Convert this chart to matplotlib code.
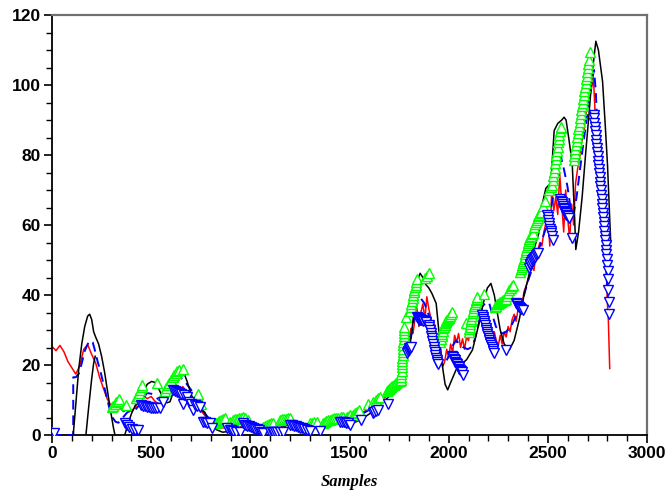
import matplotlib; matplotlib.use("Agg")
import matplotlib.pyplot as plt
from matplotlib.ticker import MultipleLocator

# ---- price (red, noisy) ----
red_x = [0, 20, 40, 60, 80, 100, 120, 140, 160, 180, 200, 220, 240, 260, 280, 300, 320, 340, 360, 380,
         400, 420, 440, 460, 480, 500, 520, 540, 560, 580, 600, 620, 640, 660, 680, 700, 720, 740, 760, 780,
         800, 820, 840, 860, 880, 900, 920, 940, 960, 980, 1000, 1020, 1040, 1060, 1080, 1100, 1120, 1140, 1160, 1180,
         1200, 1220, 1240, 1260, 1280, 1300, 1320, 1340, 1360, 1380, 1400, 1420, 1440, 1460, 1480, 1500, 1520, 1540, 1560, 1580,
         1600, 1620, 1640, 1660, 1680, 1700, 1720, 1740, 1760, 1770, 1780, 1790, 1800, 1810, 1820, 1830, 1840, 1850, 1860, 1870,
         1880, 1890, 1900, 1910, 1920, 1930, 1940, 1950, 1960, 1970, 1980, 1990, 2000, 2010, 2020, 2030, 2040, 2050, 2060, 2070,
         2080, 2090, 2100, 2110, 2120, 2130, 2140, 2150, 2160, 2170, 2180, 2190, 2200, 2210, 2220, 2230, 2240, 2250, 2260, 2270,
         2280, 2290, 2300, 2310, 2320, 2330, 2340, 2350, 2360, 2370, 2380, 2390, 2400, 2410, 2420, 2430, 2440, 2450, 2460, 2470,
         2480, 2490, 2500, 2510, 2520, 2530, 2540, 2550, 2560, 2570, 2580, 2590, 2600, 2610, 2620, 2630, 2640, 2650, 2660, 2670,
         2680, 2690, 2700, 2710, 2720, 2730, 2740, 2750, 2760, 2770, 2780, 2790, 2800, 2805, 2812]
red_y = [25.3, 24.1, 25.6, 23.8, 21.0, 19.2, 17.4, 19.8, 24.5, 25.8, 23.0, 20.6, 16.5, 13.2, 10.1, 8.2, 7.0, 8.1, 6.7, 7.4,
         6.8, 7.9, 9.8, 11.2, 10.4, 11.0, 9.6, 8.8, 9.3, 11.5, 13.2, 14.6, 13.1, 13.8, 12.2, 11.4, 9.6, 8.0, 6.3, 4.9,
         3.8, 3.0, 2.4, 2.0, 2.2, 1.8, 2.3, 2.0, 2.6, 2.3, 2.1, 1.7, 1.4, 1.2, 1.0, 1.3, 1.5, 1.9, 2.4, 2.8,
         2.6, 3.0, 2.7, 2.3, 2.0, 1.8, 2.1, 2.4, 2.8, 3.1, 3.4, 3.6, 3.9, 4.3, 4.6, 4.9, 5.3, 5.8, 6.3, 6.9,
         7.6, 8.3, 9.1, 10.0, 10.8, 11.9, 12.8, 14.2, 17.5, 20.0, 23.4, 25.0, 27.0, 30.5, 29.0, 33.0, 36.2, 31.0, 35.0, 37.5,
         33.0, 39.5, 36.0, 33.5, 30.5, 31.5, 27.0, 24.5, 22.0, 19.5, 21.0, 24.5, 22.0, 26.0, 23.5, 28.5, 26.5, 29.0, 25.0, 27.5,
         24.5, 28.0, 27.0, 30.0, 31.5, 33.5, 35.0, 37.0, 35.5, 33.0, 35.5, 31.0, 33.5, 29.0, 26.5, 29.5, 27.0, 25.5, 28.5, 26.0,
         29.5, 28.0, 31.0, 29.5, 33.0, 34.5, 32.5, 36.0, 38.5, 37.0, 41.0, 42.5, 44.0, 46.5, 48.0, 47.0, 51.5, 53.0, 55.0, 54.0,
         58.0, 60.5, 62.0, 54.0, 70.5, 64.0, 68.0, 63.0, 74.5, 66.0, 58.0, 70.0, 62.0, 56.0, 66.0, 60.0, 72.0, 76.0, 79.0, 83.5,
         86.0, 91.0, 94.5, 96.0, 99.0, 102.0, 90.0, 85.5, 82.0, 76.0, 68.0, 55.0, 38.0, 33.0, 19.0]

# ---- moving average (blue dashed) ----
ma_x = [0, 107, 107, 120, 135, 150, 165, 180, 195, 205, 215, 230, 245, 260, 275, 290, 305, 320, 335, 350,
        365, 380, 400, 420, 440, 460, 480, 500, 520, 540, 560, 580, 600, 620, 640, 660, 680, 700, 720, 740,
        760, 780, 800, 820, 850, 880, 920, 960, 1000, 1040, 1080, 1120, 1160, 1200, 1240, 1280, 1320, 1360, 1400, 1450,
        1500, 1550, 1600, 1650, 1700, 1740, 1770, 1790, 1810, 1825, 1844, 1860, 1878, 1903, 1928, 1953, 1978, 2000, 2020, 2037,
        2055, 2070, 2095, 2120, 2145, 2170, 2190, 2205, 2222, 2238, 2255, 2272, 2290, 2314, 2340, 2373, 2400, 2430, 2460, 2490,
        2520, 2545, 2566, 2582, 2599, 2616, 2630, 2645, 2666, 2683, 2700, 2718, 2733, 2742, 2750, 2760, 2767, 2780, 2790, 2800, 2808]
ma_y = [0, 0, 16.5, 16.5, 17.5, 20.5, 24.0, 26.0, 27.0, 26.5, 24.5, 21.0, 18.0, 14.5, 11.0, 7.5, 5.0, 3.8, 3.5, 4.5,
        5.5, 6.5, 7.0, 7.2, 8.5, 10.5, 12.0, 11.8, 11.0, 10.0, 9.5, 11.0, 13.5, 15.5, 16.5, 16.0, 14.5, 13.0, 11.0, 9.0,
        7.0, 5.5, 4.2, 3.3, 2.6, 2.3, 2.1, 2.3, 2.2, 1.7, 1.3, 1.4, 2.0, 2.5, 2.7, 2.3, 2.1, 2.5, 3.1, 3.8,
        4.6, 5.6, 7.2, 9.3, 11.5, 13.8, 17.5, 22.0, 28.0, 33.0, 39.5, 39.0, 37.6, 33.8, 26.2, 20.5, 20.0, 22.5, 25.5, 27.0,
        26.0, 25.2, 24.5, 25.2, 30.0, 36.7, 38.0, 37.6, 34.0, 31.0, 29.5, 29.0, 29.5, 31.0, 34.0, 38.6, 44.0, 49.0, 54.0, 59.0,
        66.0, 74.0, 79.5, 75.7, 71.0, 64.3, 63.0, 68.0, 77.6, 85.0, 92.0, 100.0, 104.3, 98.0, 87.0, 78.0, 72.9, 62.0, 52.0, 42.0, 35.0]

# ---- smoothed signal (black) ----
sm_x = [107, 120, 135, 150, 165, 180, 190, 200, 210, 220, 235, 250, 265, 280, 295, 310, 325, 345, 367, 385,
        400, 420, 443, 460, 480, 502, 520, 540, 560, 580, 595, 610, 625, 644, 660, 680, 700, 720, 745, 770,
        790, 812, 830, 860, 890, 920, 950, 980, 1010, 1040, 1070, 1100, 1130, 1160, 1190, 1215, 1245, 1280, 1315, 1350,
        1400, 1450, 1500, 1550, 1600, 1650, 1700, 1735, 1760, 1780, 1802, 1815, 1830, 1845, 1856, 1870, 1885, 1900, 1915, 1937,
        1950, 1969, 1982, 1995, 2010, 2037, 2060, 2090, 2120, 2145, 2170, 2195, 2213, 2230, 2245, 2260, 2280, 2306, 2330, 2356,
        2380, 2406, 2430, 2456, 2472, 2490, 2515, 2532, 2550, 2570, 2582, 2592, 2605, 2623, 2635, 2641, 2655, 2673, 2690, 2708,
        2725, 2742, 2755, 2776, 2790, 2801, 2810, 2817]
sm_y = [0.0, 9.0, 19.0, 26.0, 31.0, 34.0, 34.5, 33.0, 29.5, 28.0, 26.0, 22.5, 18.0, 12.5, 7.0, 2.0, -2.0, -3.0, 0.0, 3.5,
        6.0, 8.5, 9.5, 12.0, 14.5, 15.3, 15.0, 13.0, 10.5, 9.2, 9.5, 12.0, 16.0, 19.0, 18.5, 15.5, 12.0, 8.5, 7.5, 6.5,
        4.0, 2.3, 1.5, 0.8, 1.0, 1.5, 1.8, 1.6, 1.2, 1.0, 0.6, 0.8, 1.3, 2.0, 3.0, 3.7, 3.6, 2.9, 2.6, 2.8,
        3.0, 3.2, 3.0, 4.2, 6.0, 8.5, 11.0, 13.8, 16.5, 20.0, 24.3, 30.0, 38.0, 44.5, 46.2, 45.0, 43.0, 42.0, 40.5, 37.6,
        30.0, 19.5, 14.5, 12.9, 15.0, 18.6, 20.0, 21.5, 24.3, 30.0, 36.7, 42.0, 43.3, 40.0, 35.0, 30.0, 26.0, 24.3, 27.0, 33.0,
        40.0, 46.0, 53.0, 58.0, 66.0, 70.5, 72.0, 87.0, 89.0, 90.0, 90.8, 90.0, 85.0, 77.6, 62.0, 53.0, 58.0, 68.0, 80.0, 92.0,
        104.0, 112.5, 110.0, 101.0, 88.0, 77.0, 65.0, 55.0]
sm2_x = [171, 185, 200, 210, 218]
sm2_y = [0.0, 8.0, 16.0, 20.5, 22.5]

# ---- up signals (green) ----
up_x = [0, 300, 308, 316, 324, 332, 340, 372, 425, 432, 439, 446, 453, 456, 527,
        560, 568, 576, 584, 592, 600, 608, 616, 624, 632, 640, 661, 737, 750,
        828, 836, 844, 852, 860, 871, 896, 912, 922, 932, 942, 952, 962, 971, 987,
        1063, 1073, 1083, 1093, 1103, 1113, 1148, 1158, 1168, 1178, 1188, 1198,
        1299, 1309, 1319, 1334, 1364, 1374, 1384, 1394, 1404, 1414, 1424, 1434, 1444, 1455, 1465,
        1485, 1495, 1505, 1516, 1528, 1540, 1550, 1592,
        1620, 1632, 1644, 1652, 1690, 1695, 1700, 1705, 1710, 1716, 1722, 1728, 1735, 1741, 1748, 1754, 1760,
        1761, 1762, 1763, 1764, 1765, 1766, 1767, 1768, 1769, 1770, 1771, 1772, 1773, 1774, 1775, 1776, 1777, 1785,
        1806, 1809, 1812, 1815, 1818, 1821, 1824, 1827, 1830, 1833, 1836, 1838, 1880, 1890, 1903,
        1958, 1961, 1964, 1967, 1970, 1973, 1976, 1979, 1982, 1985, 1988, 1991, 1994, 1997, 2000, 2004, 2008, 2012, 2017, 2088,
        2100, 2103, 2106, 2109, 2112, 2115, 2118, 2121, 2124, 2127, 2130, 2133, 2136, 2139, 2142, 2145, 2180,
        2236, 2241, 2246, 2251, 2256, 2261, 2266, 2271, 2276, 2281, 2286, 2291, 2296, 2301, 2306, 2312, 2318, 2322,
        2362, 2365, 2368, 2371, 2374, 2377, 2380, 2383, 2386, 2389, 2392, 2395, 2398, 2401, 2404, 2407, 2410, 2414, 2418, 2423,
        2430, 2435, 2440, 2444, 2448, 2452, 2456, 2460, 2465, 2475, 2487, 2505, 2514,
        2522, 2525, 2528, 2531, 2534, 2537, 2540, 2543, 2546, 2549, 2552, 2555, 2558, 2561, 2564, 2566,
        2630, 2633, 2636, 2639, 2642, 2645, 2648, 2651, 2654, 2657, 2660, 2663, 2666, 2669, 2672, 2675,
        2678, 2681, 2684, 2687, 2690, 2693, 2696, 2699, 2702, 2705, 2708, 2713]
up_y = [1.0, 8.0, 8.4, 8.9, 9.4, 9.8, 10.2, 8.6, 10.5, 11.2, 12.0, 12.8, 13.6, 14.3, 14.8,
        11.8, 12.6, 13.4, 14.2, 15.0, 15.8, 16.6, 17.2, 17.8, 18.3, 18.6, 19.0, 11.7, 9.0,
        3.4, 3.8, 4.1, 4.4, 4.6, 4.8, 3.8, 4.3, 4.5, 4.7, 4.9, 5.0, 5.1, 4.8, 4.3,
        2.4, 2.7, 3.0, 3.2, 3.4, 3.3, 4.3, 4.5, 4.6, 4.7, 4.8, 4.8,
        3.3, 3.5, 3.6, 3.8, 3.4, 3.7, 3.9, 4.2, 4.4, 4.6, 4.8, 4.9, 5.0, 5.1, 5.1,
        5.1, 5.4, 5.7, 5.8, 6.2, 6.7, 7.1, 9.0,
        9.5, 10.0, 10.5, 11.0, 12.5, 12.9, 13.2, 13.5, 13.8, 14.1, 14.3, 14.6, 14.8, 15.1, 15.3, 15.5, 15.7,
        16.6, 17.5, 18.4, 19.3, 20.2, 21.1, 22.0, 22.9, 23.8, 24.7, 25.6, 26.5, 27.4, 28.3, 29.2, 30.1, 31.0, 33.8,
        35.5, 36.6, 37.5, 38.3, 39.2, 40.0, 40.8, 41.5, 42.3, 43.0, 43.6, 44.5, 45.0, 45.5, 46.2,
        26.5, 27.5, 28.3, 29.0, 29.8, 30.5, 31.0, 31.5, 32.0, 32.3, 32.6, 32.8, 33.0, 33.2, 33.4, 33.7, 34.1, 34.6, 35.2, 31.9,
        29.5, 30.3, 31.0, 31.8, 32.5, 33.2, 34.0, 34.8, 35.5, 36.2, 36.8, 37.4, 38.0, 38.5, 39.0, 39.5, 40.2,
        36.5, 37.0, 37.3, 37.5, 37.7, 37.9, 38.1, 38.3, 38.5, 38.6, 38.7, 39.0, 39.8, 40.6, 41.4, 42.0, 42.6, 43.0,
        46.5, 47.3, 47.9, 48.5, 49.1, 49.8, 50.4, 51.0, 51.7, 52.3, 53.0, 53.6, 54.2, 54.9, 55.5, 56.0, 56.5, 57.0, 57.3, 57.6,
        59.5, 60.3, 61.0, 61.5, 62.0, 62.5, 63.0, 63.4, 63.8, 65.5, 67.0, 70.0, 71.0,
        71.5, 72.8, 74.0, 75.2, 76.4, 77.6, 78.8, 80.0, 81.2, 82.4, 83.6, 84.7, 85.8, 86.8, 87.6, 88.0,
        78.5, 79.6, 80.7, 81.8, 82.9, 84.0, 85.1, 86.2, 87.3, 88.4, 89.5, 90.6, 91.7, 92.8, 93.9, 95.0,
        96.1, 97.2, 98.3, 99.4, 100.5, 101.6, 102.7, 103.8, 104.9, 106.0, 107.1, 109.5]

# ---- down signals (blue) ----
dn_x = [10, 367, 378, 390, 405, 420, 433,
        451, 460, 470, 480, 490, 500, 510, 520, 530, 543, 561,
        610, 620, 630, 640, 650, 658, 668, 680, 690, 700, 711, 720, 732, 745,
        761, 772, 784, 795, 808, 880, 895, 905, 915, 930, 946,
        963, 973, 983, 993, 1003, 1013, 1023, 1033, 1043, 1053, 1063,
        1097, 1107, 1113, 1123, 1135, 1148, 1163,
        1198, 1208, 1218, 1228, 1238, 1248, 1260, 1272, 1284, 1299, 1352,
        1450, 1460, 1470, 1480, 1490, 1500, 1559, 1617, 1625, 1633, 1642, 1693,
        1790, 1794, 1798, 1802, 1806, 1812,
        1840, 1844, 1848, 1852, 1857, 1862, 1867, 1872, 1879, 1886,
        1900, 1903, 1906, 1909, 1912, 1915, 1918, 1921, 1924, 1927, 1930, 1933, 1936, 1939, 1942, 1945,
        2018, 2022, 2026, 2030, 2034, 2038, 2042, 2046, 2050, 2054, 2058, 2062, 2066, 2070,
        2168, 2171, 2174, 2177, 2180, 2183, 2186, 2189, 2192, 2195, 2198, 2201, 2204, 2207, 2210, 2214, 2218, 2222, 2226, 2230, 2289,
        2339, 2345, 2350, 2356, 2362, 2367, 2373,
        2404, 2408, 2412, 2416, 2420, 2424, 2428, 2433, 2438, 2443, 2448,
        2496, 2499, 2502, 2505, 2508, 2511, 2514, 2517, 2520, 2524,
        2563, 2566, 2569, 2572, 2575, 2578, 2581, 2584, 2587, 2590, 2594, 2598, 2602, 2608, 2624,
        2731, 2733, 2735, 2737, 2739, 2741, 2743, 2745, 2747, 2749, 2751, 2753, 2755, 2757, 2759, 2761, 2763, 2765, 2767, 2769,
        2771, 2773, 2775, 2777, 2779, 2781, 2783, 2785, 2787, 2789, 2791, 2793, 2795, 2797, 2799, 2801, 2803, 2805, 2807, 2809]
dn_y = [0.5, 3.4, 2.8, 2.2, 1.8, 1.5, 1.4,
        8.5, 8.4, 8.2, 8.0, 7.9, 7.8, 7.8, 7.7, 7.7, 7.7, 9.5,
        12.9, 12.6, 12.3, 12.0, 11.6, 9.0, 11.3, 11.0, 9.5, 9.0, 7.1, 8.6, 8.3, 8.0,
        3.8, 3.6, 3.4, 3.3, 1.9, 2.0, 1.4, 1.3, 1.2, 1.0, 1.0,
        3.3, 3.0, 2.7, 2.5, 2.2, 2.0, 1.8, 1.6, 1.4, 1.0, 0.5,
        1.0, 0.9, 1.0, 0.8, 1.0, 1.0, 1.0,
        2.9, 2.8, 2.6, 2.5, 2.3, 2.1, 2.0, 1.7, 1.4, 1.2, 1.2,
        3.8, 3.8, 3.6, 3.5, 3.4, 2.9, 4.3, 6.2, 6.6, 6.9, 7.1, 9.0,
        23.5, 24.0, 24.4, 24.8, 25.0, 25.2,
        33.8, 33.4, 33.2, 32.9, 33.0, 33.0, 32.8, 32.6, 32.5, 32.4,
        31.5, 30.8, 30.0, 29.2, 28.4, 27.6, 26.8, 26.0, 25.2, 24.4, 23.6, 22.8, 22.0, 21.3, 20.8, 20.2,
        22.6, 22.2, 21.8, 21.4, 21.0, 20.6, 20.2, 19.8, 19.4, 19.0, 18.7, 18.4, 18.0, 17.1,
        34.3, 33.7, 33.1, 32.5, 31.9, 31.3, 30.7, 30.1, 29.5, 28.9, 28.3, 27.7, 27.2, 26.7, 26.2, 25.7, 25.2, 24.7, 24.0, 23.3, 24.3,
        37.6, 37.3, 37.0, 36.7, 36.3, 36.0, 35.7,
        47.8, 48.5, 49.0, 49.5, 49.9, 50.3, 50.7, 51.0, 51.4, 51.7, 52.0,
        63.0, 62.2, 61.4, 60.6, 59.8, 59.0, 58.3, 57.6, 56.9, 55.7,
        67.5, 67.0, 66.5, 66.0, 65.5, 65.0, 64.5, 64.0, 63.6, 63.3, 63.0, 62.8, 62.5, 62.0, 56.2,
        91.5, 90.5, 89.2, 88.0, 86.8, 85.6, 84.4, 83.2, 82.0, 80.8, 79.6, 78.4, 77.2, 76.0, 74.8, 73.6, 72.4, 71.2, 70.0, 68.7,
        67.4, 66.1, 64.8, 63.5, 62.2, 60.9, 59.6, 58.3, 57.0, 55.7, 54.4, 53.0, 51.6, 50.2, 48.6, 47.0, 44.5, 41.5, 38.0, 34.5]

plt.rcParams["font.family"] = ["Liberation Sans", "DejaVu Sans"]
fig = plt.figure(figsize=(6.69, 4.95), dpi=100)
ax = fig.add_axes([52/669, 60/495, 595/669, 420/495])

ax.plot(red_x, red_y, color="#ff0000", lw=1.1, zorder=2)
ax.plot(ma_x, ma_y, color="#0000ff", lw=1.4, ls=(0, (5, 3)), zorder=3)
ax.plot(sm_x, sm_y, color="black", lw=1.1, zorder=3)
ax.plot(sm2_x, sm2_y, color="black", lw=1.1, zorder=3)
ax.plot(up_x, up_y, ls="none", marker="^", ms=7.3, mfc="white", mec="#00ff00", mew=1.0, zorder=4)
ax.plot(dn_x, dn_y, ls="none", marker="v", ms=7.3, mfc="white", mec="#0000ff", mew=1.0, zorder=4)

ax.set_xlim(0, 3000); ax.set_ylim(0, 120)
ax.xaxis.set_major_locator(MultipleLocator(500)); ax.xaxis.set_minor_locator(MultipleLocator(100))
ax.yaxis.set_major_locator(MultipleLocator(20)); ax.yaxis.set_minor_locator(MultipleLocator(5))
ax.tick_params(which="major", direction="out", length=6, width=1.2, pad=2, labelsize=12.5)
ax.tick_params(which="minor", direction="out", length=4.5, width=1.0)
for lab in ax.get_xticklabels() + ax.get_yticklabels():
    lab.set_fontweight("bold")
for s in ("left", "bottom"):
    ax.spines[s].set_linewidth(1.3); ax.spines[s].set_color("black")
for s in ("top", "right"):
    ax.spines[s].set_linewidth(1.6); ax.spines[s].set_color("#707070")
ax.set_xlabel("Samples", family="Liberation Serif", style="italic", fontweight="bold",
              fontsize=12, labelpad=9)

fig.savefig("out.png", dpi=100, facecolor="white")
